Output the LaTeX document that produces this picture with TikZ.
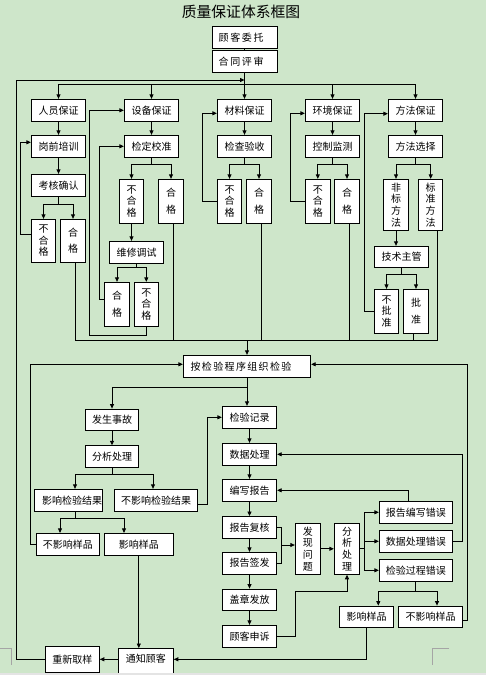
\documentclass[tikz,border=0pt]{standalone}
\usepackage{fontspec}
\setmainfont{Noto Sans CJK SC}
\usetikzlibrary{arrows.meta,calc}
\definecolor{bg}{RGB}{206,230,202}
\definecolor{markc}{RGB}{165,165,165}
\definecolor{band}{RGB}{228,228,228}
\makeatletter
\newcommand\tracked[2]{\def\tr@k{#1}\@tfor\tr@c:=#2\do{\tr@c\kern\tr@k}\unkern}
\makeatother
\tikzset{
  box/.style={draw=black, line width=0.9pt, fill=white, inner sep=0pt, font=\fontsize{10}{11.7}\selectfont},
  vb/.style={box, align=center},
  arr/.style={-{Triangle[length=4.5pt,width=4pt]}},
}
\begin{document}
\begin{tikzpicture}[x=1pt,y=-1pt,line width=0.8pt]
\useasboundingbox (0,0) rectangle (486,675);
\fill[bg] (0,0) rectangle (486,675);

\node[font=\fontsize{14.8}{18}\selectfont] (title) at (241,11.5) {质量保证体系框图};

% top
\node[box, minimum width=65pt, minimum height=22.4pt] (gkwt) at (244.5,37.5) {\tracked{1.6pt}{顾客委托}\kern6.8pt};
\node[box, minimum width=65pt, minimum height=22pt] (htps) at (244.5,61.3) {\tracked{1.6pt}{合同评审}\kern6.8pt};

% row 1
\node[box, minimum width=54.4pt, minimum height=22pt] (ry) at (58.5,110.3) {人员保证};
\node[box, minimum width=54.4pt, minimum height=22pt] (sb) at (151.5,110.3) {设备保证};
\node[box, minimum width=54.4pt, minimum height=22pt] (cl) at (244.5,110.3) {材料保证};
\node[box, minimum width=54.4pt, minimum height=22pt] (hj) at (332.5,110.3) {环境保证};
\node[box, minimum width=54.4pt, minimum height=22pt] (ff) at (415.5,110.3) {方法保证};
% row 2
\node[box, minimum width=54.4pt, minimum height=22pt] (gqpx) at (58.5,146.3) {岗前培训};
\node[box, minimum width=54.4pt, minimum height=22pt] (jdjz) at (151.5,146.3) {检定校准};
\node[box, minimum width=54.4pt, minimum height=22pt] (jcys) at (244.5,146.3) {检查验收};
\node[box, minimum width=54.4pt, minimum height=22pt] (kzjc) at (332.5,146.3) {控制监测};
\node[box, minimum width=54.4pt, minimum height=22pt] (ffxz) at (415.5,146.3) {方法选择};

\node[box, minimum width=54.4pt, minimum height=22.4pt] (khqr) at (58.5,185.5) {考核确认};
\node[vb, minimum width=24.4pt, minimum height=43pt] (ry_bhg) at (43.5,240.8) {不\\合\\格};
\node[vb, minimum width=25.4pt, minimum height=43pt] (ry_hg) at (73,240.8) {合\\[5pt]格};

\node[vb, minimum width=24.4pt, minimum height=44pt] (sb_bhg1) at (131.5,201.3) {不\\合\\格};
\node[vb, minimum width=25.4pt, minimum height=44pt] (sb_hg1) at (171,201.3) {合\\[5pt]格};
\node[box, minimum width=54.4pt, minimum height=22pt] (wxts) at (136.5,252.3) {维修调试};
\node[vb, minimum width=25.4pt, minimum height=44pt] (sb_hg2) at (117,304.3) {合\\[5pt]格};
\node[vb, minimum width=24pt, minimum height=44pt] (sb_bhg2) at (146.3,304.3) {不\\合\\格};

\node[vb, minimum width=24.4pt, minimum height=44pt] (cl_bhg) at (229.5,201.3) {不\\合\\格};
\node[vb, minimum width=25.4pt, minimum height=44pt] (cl_hg) at (259,201.3) {合\\[5pt]格};
\node[vb, minimum width=25pt, minimum height=44pt] (hj_bhg) at (317.8,201.3) {不\\合\\格};
\node[vb, minimum width=25.4pt, minimum height=44pt] (hj_hg) at (347,201.3) {合\\[5pt]格};

\node[vb, minimum width=25.4pt, minimum height=51pt] (fbff) at (396,204.8) {非\\标\\方\\法};
\node[vb, minimum width=24pt, minimum height=51pt] (bzff) at (430.7,204.8) {标\\准\\方\\法};
\node[box, minimum width=54.4pt, minimum height=21pt] (jszg) at (401.5,256.8) {技术主管};
\node[vb, minimum width=24.4pt, minimum height=44pt] (bpz) at (386.5,311.3) {不\\批\\准};
\node[vb, minimum width=25.4pt, minimum height=44pt] (pz) at (416,311.3) {批\\[5pt]准};

% inspection
\node[box, minimum width=127.4pt, minimum height=22pt] (jyzz) at (247,366.3) {\tracked{1.35pt}{按检验程序组织检验}\kern12pt};

\node[box, minimum width=52.6pt, minimum height=21.3pt] (fssg) at (112,419.7) {发生事故};
\node[box, minimum width=52.6pt, minimum height=21.6pt] (fxcl1) at (112,456.5) {分析处理};
\node[box, minimum width=63.7pt, minimum height=22pt] (yxjg) at (68.2,500.3) {\kern8pt影响检验结果};
\node[box, minimum width=82.6pt, minimum height=22pt] (byxjg) at (156,500.3) {不影响检验结果};
\node[box, minimum width=63pt, minimum height=21.7pt] (byxyp1) at (67.8,544.2) {不影响样品};
\node[box, minimum width=69pt, minimum height=21.7pt] (yxyp1) at (138.8,544.2) {影响样品};
\node[box, minimum width=54.8pt, text height=13.8pt, text depth=17.7pt, anchor=base] (tzgk) at (145.9,662.3) {通知顾客};
\node[box, minimum width=54pt, minimum height=26pt] (cxqy) at (72.3,659.3) {重新取样};

\node[box, minimum width=54.4pt, minimum height=22pt] (jyjl) at (249.5,417.3) {检验记录};
\node[box, minimum width=54.4pt, minimum height=22pt] (sjcl) at (249.5,454.3) {数据处理};
\node[box, minimum width=54.4pt, minimum height=22pt] (bxbg) at (249.5,490.3) {编写报告};
\node[box, minimum width=54.4pt, minimum height=22pt] (bgfh) at (249.5,527.5) {报告复核};
\node[box, minimum width=54.4pt, minimum height=21.7pt] (bgqf) at (249.5,563.2) {报告签发};
\node[box, minimum width=54.4pt, minimum height=21.3pt] (gzff) at (249.5,599.7) {盖章发放};
\node[box, minimum width=54.4pt, minimum height=22pt] (gkss) at (249.5,636.3) {顾客申诉};

\node[vb, minimum width=25pt, minimum height=51pt] (fxwt) at (307.8,548.8) {发\\现\\问\\题};
\node[vb, minimum width=25.4pt, minimum height=51pt] (fxcl2) at (347,548.8) {分\\析\\处\\理};
\node[box, minimum width=73pt, minimum height=22pt] (bgbx) at (415.8,512.3) {报告编写错误};
\node[box, minimum width=73pt, minimum height=22pt] (sjclcw) at (415.8,541.3) {数据处理错误};
\node[box, minimum width=73pt, minimum height=22pt] (jygccw) at (415.8,570.3) {检验过程错误};
\node[box, minimum width=54.4pt, minimum height=21.3pt] (yxyp2) at (366.5,616.7) {影响样品};
\node[box, minimum width=63.6pt, minimum height=21.3pt] (byxyp2) at (430.5,616.7) {不影响样品};

% free-end coordinates
\coordinate (top) at (244.5,80);
\coordinate (col) at (247,340);
\coordinate (fb1) at (89.3,335);
\coordinate (j2) at (281.3,545);
\coordinate (j3) at (295.5,591);

% top connectors
\draw (gkwt.south) -- (htps.north);
\foreach \n in {ry,sb,cl,hj,ff} \draw[arr] (htps.south) -- ++(0,12) -| (\n.north);
\draw[arr] (cxqy.west) -| (16,80) -- (top);

% personnel
\draw[arr] (ry.south) -- (gqpx.north);
\draw[arr] (gqpx.south) -- (khqr.north);
\draw[arr] (khqr.south) -- ++(0,7.5) -| (ry_bhg.north);
\draw[arr] (khqr.south) -- ++(0,7.5) -| (ry_hg.north);
\draw[arr] ([yshift=6.5pt]ry_bhg.west) -- ++(-10.3,0) |- ([yshift=4pt]gqpx.west);

% equipment
\draw[arr] (sb.south) -- (jdjz.north);
\draw[arr] (jdjz.south) -- ++(0,6.7) -| (sb_bhg1.north);
\draw[arr] (jdjz.south) -- ++(0,6.7) -| (sb_hg1.north);
\draw[arr] (sb_bhg1.south) -- (sb_bhg1.south |- wxts.north);
\draw[arr] (wxts.south) -- ++(0,3.7) -| (sb_hg2.north);
\draw[arr] (wxts.south) -- ++(0,3.7) -| (sb_bhg2.north);
\draw[arr] (sb_bhg2.south) |- (fb1) |- (sb.west);
\draw[arr] ([yshift=5.3pt]sb_hg2.west) -- ++(-4.6,0) |- (jdjz.west);

% material
\draw[arr] (cl.south) -- (jcys.north);
\draw[arr] (jcys.south) -- ++(0,6.7) -| (cl_bhg.north);
\draw[arr] (jcys.south) -- ++(0,6.7) -| (cl_hg.north);
\draw[arr] (cl_bhg.west) -- ++(-14.6,0) |- ([yshift=-3pt]cl.west);

% environment
\draw[arr] (hj.south) -- (kzjc.north);
\draw[arr] (kzjc.south) -- ++(0,6.7) -| (hj_bhg.north);
\draw[arr] (kzjc.south) -- ++(0,6.7) -| (hj_hg.north);
\draw[arr] (hj_bhg.west) -- ++(-14.6,0) |- ([yshift=-3pt]hj.west);

% method
\draw[arr] (ff.south) -- (ffxz.north);
\draw[arr] (ffxz.south) -- ++(0,6.7) -| (fbff.north);
\draw[arr] (ffxz.south) -- ++(0,6.7) -| (bzff.north);
\draw[arr] (fbff.south) -- (fbff.south |- jszg.north);
\draw[arr] (jszg.south) -- ++(0,7) -| (bpz.north);
\draw[arr] (jszg.south) -- ++(0,7) -| (pz.north);
\draw[arr] (bpz.west) -- ++(-9.6,0) |- ([yshift=-3.4pt]ff.west);

% collector
\draw ([xshift=2.7pt]ry_hg.south) |- (col);
\draw ([xshift=2.3pt]sb_hg1.south) |- (col);
\draw ([xshift=2.3pt]cl_hg.south) |- (col);
\draw ([xshift=2.3pt]hj_hg.south) |- (col);
\draw ([xshift=-2.7pt]pz.south) |- (col);
\draw ([xshift=6.6pt]bzff.south) |- (col);
\draw[arr] (col) -- (jyzz.north);

% inspection
\draw[arr] (byxyp1.west) -- ++(-5,0) |- ([yshift=2pt]jyzz.west);
\draw[arr] ([yshift=-3.3pt]byxyp2.east) -- ++(5,0) |- ([yshift=2pt]jyzz.east);
\draw[arr] (jyzz.south) -- (jyzz.south |- jyjl.north);
\draw[arr] (jyzz.south) -- ++(0,10) -| (fssg.north);
\draw[arr] (fssg.south) -- (fxcl1.north);
\draw[arr] (fxcl1.south) -- ++(0,7) -| ([xshift=6.8pt]yxjg.north);
\draw[arr] (fxcl1.south) -- ++(0,7) -| ([xshift=-3pt]byxjg.north);
\draw[arr] ([yshift=-3.7pt]byxjg.east) -- ++(10,0) |- (jyjl.west);
\draw[arr] ([xshift=7.5pt]yxjg.south) -- ++(0,7) -| ([xshift=-7.8pt]byxyp1.north);
\draw[arr] ([xshift=7.5pt]yxjg.south) -- ++(0,7) -| ([xshift=-14.8pt]yxyp1.north);
\draw[arr] (yxyp1.south) -- (yxyp1.south |- tzgk.north);
\draw[arr] (tzgk.west |- cxqy.east) -- (cxqy.east);
\draw[arr] (yxyp2.south) |- (tzgk.east |- cxqy.east);

% middle column
\draw[arr] (jyjl.south) -- (sjcl.north);
\draw[arr] (sjcl.south) -- (bxbg.north);
\draw[arr] (bxbg.south) -- (bgfh.north);
\draw[arr] (bgfh.south) -- (bgqf.north);
\draw[arr] (bgqf.south) -- (gzff.north);
\draw[arr] (gzff.south) -- (gkss.north);
\draw (bgfh.east) -- ++(4.6,0) |- (bgqf.east);
\draw[arr] (j2) -- (j2 -| fxwt.west);
\draw[arr] (fxwt.east) -- (fxcl2.west);
\foreach \n in {bgbx,sjclcw,jygccw} \draw[arr] (fxcl2.east) -- ++(4.6,0) |- (\n.west);
\draw[arr] ([xshift=-7.5pt]bgbx.north) |- (bxbg.east);
\draw[arr] (sjclcw.east) -- ++(9.7,0) |- (sjcl.east);
\draw[arr] (jygccw.south) -- ++(0,10) -| ([xshift=11.8pt]yxyp2.north);
\draw[arr] (jygccw.south) -- ++(0,10) -| ([xshift=6.5pt]byxyp2.north);
\draw[arr] (gkss.east) -| (j3) -| (fxcl2.south);

% page marks
\fill[band] (0,673) rectangle (486,675);
\draw[markc, line width=0.8pt] (0,648.3) -- (11.7,648.3) -- (11.7,665);
\draw[markc, line width=0.8pt] (449,648.3) -- (432.3,648.3) -- (432.3,665);
\end{tikzpicture}
\end{document}
